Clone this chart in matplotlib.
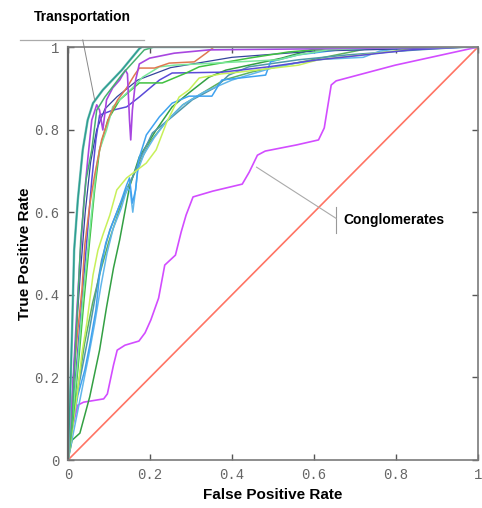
#!/usr/bin/env python3
import matplotlib; matplotlib.use('Agg')
import matplotlib.pyplot as plt

plt.rcParams.update({
    'font.family': ['Liberation Sans', 'DejaVu Sans'],
})

## ROC curves, one per sector (FPR, TPR)
teal_x = [0, 0.005, 0.010, 0.015, 0.024, 0.036, 0.048, 0.061, 0.085, 0.131, 0.174, 0.18, 1]
teal_y = [0, 0.145, 0.315, 0.508, 0.630, 0.751, 0.823, 0.864, 0.896, 0.944, 0.996, 1.0, 1]

green1_x = [0, 0.01, 0.017, 0.024, 0.031, 0.044, 0.058, 0.070, 0.090, 0.133, 0.186, 0.21, 1]
green1_y = [0, 0.097, 0.242, 0.387, 0.533, 0.678, 0.751, 0.847, 0.879, 0.935, 0.993, 1.0, 1]

transport_x = [0, 0.010, 0.019, 0.029, 0.039, 0.048, 0.058, 0.070, 0.077, 0.085, 0.094, 0.109,
               0.126, 0.140, 0.145, 0.150, 0.153, 0.157, 0.165, 0.174, 0.199, 0.259, 0.344, 1]
transport_y = [0, 0.145, 0.315, 0.484, 0.630, 0.726, 0.823, 0.860, 0.847, 0.799, 0.872, 0.901,
               0.920, 0.944, 0.935, 0.823, 0.775, 0.847, 0.920, 0.959, 0.973, 0.985, 0.993, 1]

orange_x = [0, 0.007, 0.015, 0.024, 0.034, 0.041, 0.053, 0.065, 0.082, 0.102, 0.121, 0.143,
            0.162, 0.174, 0.211, 0.247, 0.308, 0.337, 0.356, 1]
orange_y = [0, 0.097, 0.218, 0.315, 0.412, 0.521, 0.617, 0.690, 0.775, 0.835, 0.872, 0.901,
            0.932, 0.949, 0.949, 0.961, 0.964, 0.985, 1.0, 1]

mint_x = [0, 0.010, 0.022, 0.036, 0.048, 0.061, 0.070, 0.077, 0.094, 0.109, 0.133, 0.157,
          0.182, 0.223, 0.259, 0.513, 0.562, 0.634, 0.80, 1]
mint_y = [0, 0.097, 0.218, 0.387, 0.508, 0.630, 0.714, 0.751, 0.799, 0.855, 0.879, 0.901,
          0.927, 0.952, 0.956, 0.969, 0.981, 0.993, 1.0, 1]

green2_x = [0, 0.012, 0.024, 0.039, 0.053, 0.065, 0.077, 0.097, 0.126, 0.174, 0.230, 0.288,
            0.320, 0.441, 0.538, 0.659, 0.71, 1]
green2_y = [0, 0.097, 0.218, 0.387, 0.533, 0.654, 0.751, 0.823, 0.872, 0.913, 0.913, 0.937,
            0.952, 0.973, 0.988, 0.998, 1.0, 1]

indigo_x = [0, 0.010, 0.022, 0.034, 0.046, 0.058, 0.068, 0.077, 0.109, 0.143, 0.174, 0.223,
            0.254, 0.375, 0.489, 0.610, 0.724, 0.835, 0.966, 1]
indigo_y = [0, 0.097, 0.242, 0.387, 0.533, 0.678, 0.775, 0.835, 0.847, 0.855, 0.879, 0.920,
            0.937, 0.939, 0.952, 0.969, 0.981, 0.993, 1.0, 1]

navy_x = [0, 0.008, 0.018, 0.03, 0.042, 0.055, 0.07, 0.09, 0.12, 0.17, 0.25, 0.4, 0.6, 1]
navy_y = [0, 0.12, 0.28, 0.45, 0.6, 0.72, 0.80, 0.85, 0.88, 0.92, 0.95, 0.975, 0.99, 1]

lime_x = [0, 0.007, 0.017, 0.024, 0.034, 0.046, 0.061, 0.073, 0.085, 0.102, 0.119, 0.143,
          0.191, 0.215, 0.240, 0.271, 0.295, 0.320, 0.375, 0.416, 0.562, 0.610, 0.780, 0.877, 1]
lime_y = [0, 0.048, 0.121, 0.169, 0.259, 0.332, 0.448, 0.508, 0.545, 0.593, 0.654, 0.683,
          0.719, 0.751, 0.816, 0.879, 0.896, 0.925, 0.935, 0.939, 0.956, 0.969, 0.988, 1.0, 1]

sky1_x = [0, 0.010, 0.024, 0.041, 0.053, 0.068, 0.077, 0.092, 0.107, 0.126, 0.143, 0.150,
          0.157, 0.165, 0.172, 0.191, 0.223, 0.254, 0.295, 0.351, 0.375, 0.482, 0.494, 0.562,
          0.659, 0.804, 1]
sky1_y = [0, 0.073, 0.157, 0.218, 0.278, 0.363, 0.448, 0.525, 0.569, 0.617, 0.666, 0.683,
          0.622, 0.654, 0.726, 0.787, 0.831, 0.864, 0.881, 0.881, 0.920, 0.932, 0.964, 0.981,
          0.993, 0.998, 1]

sky2_x = [0, 0.012, 0.03, 0.05, 0.065, 0.08, 0.095, 0.11, 0.13, 0.145, 0.152, 0.158, 0.163,
          0.17, 0.185, 0.21, 0.24, 0.28, 0.33, 0.40, 0.50, 0.55, 0.62, 0.72, 0.76, 0.84, 1]
sky2_y = [0, 0.06, 0.15, 0.25, 0.33, 0.42, 0.50, 0.56, 0.61, 0.66, 0.65, 0.60, 0.64,
          0.70, 0.74, 0.78, 0.82, 0.86, 0.89, 0.92, 0.95, 0.96, 0.97, 0.975, 0.99, 1.0, 1]

steel_x = [0, 0.012, 0.029, 0.048, 0.065, 0.082, 0.102, 0.126, 0.150, 0.174, 0.206, 0.254,
           0.303, 0.361, 0.392, 0.441, 0.562, 0.683, 0.852, 0.973, 1]
steel_y = [0, 0.097, 0.194, 0.291, 0.387, 0.484, 0.557, 0.617, 0.666, 0.726, 0.792, 0.831,
           0.872, 0.903, 0.932, 0.952, 0.969, 0.981, 0.993, 1.0, 1]

dkgreen_x = [0, 0.010, 0.029, 0.053, 0.077, 0.094, 0.111, 0.126, 0.150, 0.174, 0.215, 0.254,
             0.295, 0.344, 0.385, 0.465, 0.521, 0.593, 0.642, 1]
dkgreen_y = [0, 0.048, 0.065, 0.153, 0.266, 0.370, 0.465, 0.533, 0.661, 0.734, 0.799, 0.855,
             0.889, 0.927, 0.944, 0.961, 0.973, 0.993, 1.0, 1]

green3_x = [0, 0.01, 0.025, 0.04, 0.06, 0.08, 0.10, 0.12, 0.14, 0.17, 0.20, 0.24, 0.28,
            0.33, 0.38, 0.45, 0.55, 0.65, 0.70, 0.75, 1]
green3_y = [0, 0.08, 0.18, 0.28, 0.38, 0.46, 0.53, 0.59, 0.65, 0.71, 0.77, 0.82, 0.86,
            0.89, 0.92, 0.94, 0.96, 0.98, 0.99, 1.0, 1]

conglo_x = [0, 0.0096, 0.024, 0.038, 0.087, 0.096, 0.111, 0.120, 0.139, 0.173, 0.188, 0.202,
            0.221, 0.236, 0.262, 0.276, 0.288, 0.305, 0.353, 0.425, 0.442, 0.462, 0.481,
            0.558, 0.611, 0.625, 0.642, 0.654, 0.798, 1]
conglo_y = [0, 0.073, 0.133, 0.140, 0.148, 0.160, 0.230, 0.266, 0.278, 0.288, 0.308, 0.339,
            0.392, 0.472, 0.496, 0.552, 0.593, 0.637, 0.651, 0.668, 0.697, 0.738, 0.748,
            0.763, 0.775, 0.804, 0.908, 0.918, 0.956, 1]

chance = [0, 1]

ticks = [0, 0.2, 0.4, 0.6, 0.8, 1]
tick_labels = ['0', '0.2', '0.4', '0.6', '0.8', '1']

fig = plt.figure(figsize=(4.82, 5.08), dpi=100)
ax = fig.add_axes([68/482, 48/508, 410/482, 413/508])

ax.plot(chance, chance, color='#ff7464', lw=1.2)
ax.plot(conglo_x, conglo_y, color='#d24cff', lw=1.2)
ax.plot(dkgreen_x, dkgreen_y, color='#33a043', lw=1.1)
ax.plot(green3_x, green3_y, color='#5cb060', lw=1.1)
ax.plot(steel_x, steel_y, color='#4f98aa', lw=1.1)
ax.plot(sky2_x, sky2_y, color='#62b6ea', lw=1.1)
ax.plot(sky1_x, sky1_y, color='#3fa2f0', lw=1.1)
ax.plot(lime_x, lime_y, color='#c8f05a', lw=1.1)
ax.plot(navy_x, navy_y, color='#34449c', lw=0.9)
ax.plot(indigo_x, indigo_y, color='#5a4ad8', lw=1.1)
ax.plot(green2_x, green2_y, color='#40c040', lw=1.1)
ax.plot(mint_x, mint_y, color='#7ae89a', lw=1.1)
ax.plot(orange_x, orange_y, color='#e07850', lw=1.1)
ax.plot(transport_x, transport_y, color='#a846e0', lw=1.2)
ax.plot(green1_x, green1_y, color='#46b070', lw=1.1)
ax.plot(teal_x, teal_y, color='#8ccaca', lw=1.8)
ax.plot(teal_x[:-1], teal_y[:-1], color='#2f9f8f', lw=1.1)

ax.set_xlim(0, 1)
ax.set_ylim(0, 1)
ax.set_xticks(ticks)
ax.set_xticklabels(tick_labels)
ax.set_yticks(ticks)
ax.set_yticklabels(tick_labels)
ax.tick_params(direction='in', length=4, width=1, colors='#555555', top=True, right=True,
               labelsize=10, pad=6)
for lab in ax.get_xticklabels() + ax.get_yticklabels():
    lab.set_family('Liberation Mono')
    lab.set_color('#666666')
for side in ['top', 'right', 'bottom']:
    ax.spines[side].set_color('#7a7a7a')
    ax.spines[side].set_linewidth(1.2)
ax.spines['left'].set_color('#666666')
ax.spines['left'].set_linewidth(1.6)

ax.set_xlabel('False Positive Rate', fontsize=11, fontweight='bold', labelpad=4)
ax.set_ylabel('True Positive Rate', fontsize=11, fontweight='bold', labelpad=2)

## callouts
ax.text(0.036, 1.073, 'Transportation', fontsize=10, fontweight='bold', ha='center',
        va='center', clip_on=False)
ax.plot([-0.116, 0.186], [1.017, 1.017], color='#aaaaaa', lw=0.9, clip_on=False)
ax.plot([0.036, 0.065], [1.017, 0.872], color='#888888', lw=0.7, clip_on=False)

ax.text(0.672, 0.582, 'Conglomerates', fontsize=10, fontweight='bold', ha='left',
        va='center')
ax.plot([0.654, 0.654], [0.550, 0.613], color='#999999', lw=0.8)
ax.plot([0.460, 0.654], [0.709, 0.585], color='#aaaaaa', lw=0.8)

fig.savefig('out.png', dpi=100)
